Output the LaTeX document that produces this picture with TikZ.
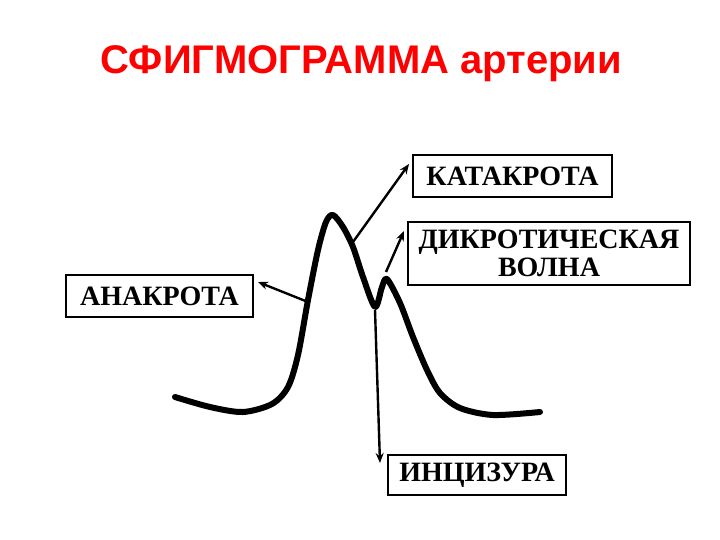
\documentclass[tikz,border=0pt]{standalone}
\usepackage{fontspec}
\setmainfont{Liberation Serif}
\newfontfamily\titlefont{Liberation Sans}
\usetikzlibrary{arrows.meta}

\tikzset{
    label box/.style={draw, line width=2.6pt, font=\bfseries\fontsize{28}{28}\selectfont,
        align=center, inner sep=0pt},
    pointer/.style={line width=2.4pt, -{Stealth[length=10pt,width=8pt]}}
}

\begin{document}
\begin{tikzpicture}[x=1pt,y=-1pt]
                \useasboundingbox (0,0) rectangle (720,540);
                \node[text=red, font=\titlefont\bfseries\fontsize{40}{40}\selectfont] (title) at (361,64) {СФИГМОГРАММА артерии};
                %pulse curve
                \draw[line width=6pt, line cap=round, line join=round]
                    plot[smooth, tension=0.5] coordinates {(175,397) (210,407) (243,412) (272,404) (288,387)
                        (298,355) (308,300) (318,250) (326,222) (333,215) (343,227) (353,247) (363,277)
                        (375,307) (382,287) (387,279) (400,303) (413,337) (427,370) (440,393) (460,408)
                        (493,415) (540,412)};
                %labels
                \node[label box, minimum width=199pt, minimum height=42pt] (kata) at (512.5,176) {КАТАКРОТА};
                \node[label box, minimum width=282pt, minimum height=63pt] (dikr) at (549,253.5) {ДИКРОТИЧЕСКАЯ\\ВОЛНА};
                \node[label box, minimum width=187pt, minimum height=42pt] (ana) at (159.5,296) {АНАКРОТА};
                \node[label box, minimum width=178pt, minimum height=40pt] (inci) at (477,475) {ИНЦИЗУРА};
                %points on the curve and arrow ends
                \coordinate (on ana) at (308,302);
                \coordinate (on kata) at (353,242);
                \coordinate (on dikr) at (386,272);
                \coordinate (on inci) at (375,310);
                \coordinate (to ana) at (258,282);
                \coordinate (to kata) at (409,164);
                \coordinate (to dikr) at (404,231);
                \coordinate (to inci) at (380,463);
                \foreach \p in {ana,kata,dikr,inci}
                    \draw[pointer] (on \p) -- (to \p);
            \end{tikzpicture}
\end{document}
